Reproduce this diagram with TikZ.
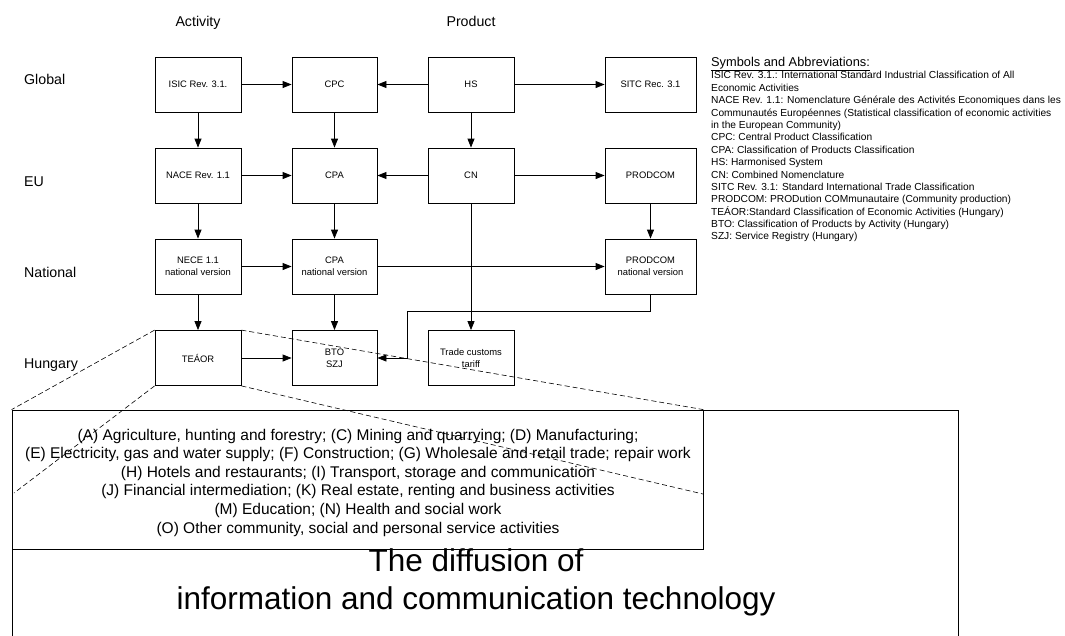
\documentclass[tikz,border=0pt]{standalone}
\usepackage{fontspec}
\setmainfont{Liberation Sans}
\usetikzlibrary{arrows.meta}

\begin{document}
\begin{tikzpicture}[x=1pt,y=-1pt,
  cls/.style={draw, line width=0.8pt, minimum height=55pt, inner sep=0pt,
    align=center, font=\fontsize{9.4}{12}\selectfont},
  link/.style={-{Triangle[length=9pt,width=7pt]}, line width=0.8pt},
  zoomline/.style={line width=0.6pt, dash pattern=on 5pt off 3pt},
  hdr/.style={font=\fontsize{14.2}{17}\selectfont, inner sep=0pt},
]
\useasboundingbox (0,0) rectangle (1065,635);

% column and row headings
\node[hdr, anchor=base] (hact) at (198,26.2) {Activity};
\node[hdr, anchor=base] (hprod) at (471,26.2) {Product};
\node[hdr, anchor=base west] (rglob) at (24,84.2) {Global};
\node[hdr, anchor=base west] (reu) at (24,186.2) {EU};
\node[hdr, anchor=base west] (rnat) at (24,277.2) {National};
\node[hdr, anchor=base west] (rhun) at (24,368.2) {Hungary};

% classification boxes
\node[cls, minimum width=86pt] (isic) at (198,84.5) {ISIC Rev. 3.1.};
\node[cls, minimum width=85pt] (cpc) at (334.5,84.5) {CPC};
\node[cls, minimum width=86pt] (hs) at (471,84.5) {HS};
\node[cls, minimum width=91pt] (sitc) at (650.5,84.5) {SITC Rec. 3.1};

\node[cls, minimum width=86pt] (nace) at (198,175.5) {NACE Rev. 1.1};
\node[cls, minimum width=85pt] (cpa) at (334.5,175.5) {CPA};
\node[cls, minimum width=86pt] (cn) at (471,175.5) {CN};
\node[cls, minimum width=91pt] (prodcom) at (650.5,175.5) {PRODCOM};

\node[cls, minimum width=86pt] (nece) at (198,266.5) {NECE 1.1\\national version};
\node[cls, minimum width=85pt] (cpan) at (334.5,266.5) {CPA\\national version};
\node[cls, minimum width=91pt] (prodn) at (650.5,266.5) {PRODCOM\\national version};

\node[cls, minimum width=86pt] (teaor) at (198,358) {TEÁOR};
\node[cls, minimum width=85pt] (bto) at (334.5,358) {BTO\\SZJ};
\node[cls, minimum width=86pt] (tariff) at (471,358) {Trade customs\\tariff};

% connectors
\draw[link] (isic) -- (cpc);
\draw[link] (hs) -- (cpc);
\draw[link] (hs) -- (sitc);
\draw[link] (isic) -- (nace);
\draw[link] (cpc) -- (cpa);
\draw[link] (hs) -- (cn);
\draw[link] (nace) -- (cpa);
\draw[link] (cn) -- (cpa);
\draw[link] (cn) -- (prodcom);
\draw[link] (nace) -- (nece);
\draw[link] (cpa) -- (cpan);
\draw[link] (prodcom) -- (prodn);
\draw[link] (nece) -- (cpan);
\draw[link] (cpan) -- (prodn);
\draw[link] (cn) -- (tariff);
\draw[link] (nece) -- (teaor);
\draw[link] (cpan) -- (bto);
\draw[link] (teaor) -- (bto);
\coordinate (j1) at (407,311);
\draw[link] (prodn.south) |- (j1) |- (bto.east);

% outer frame
\draw[line width=0.8pt] (12,636) -- (12,410) -- (958,410) -- (958,636);

% TEÁOR sections
\node[draw, fill=white, line width=0.8pt, minimum width=691pt, minimum height=139pt,
  inner sep=0pt] (sectors) at (357.5,479.5) {};
\node[align=center, inner sep=0pt, font=\fontsize{15.5}{18.6}\selectfont]
  (sectortext) at (358,482.5)
  {(A) Agriculture, hunting and forestry; (C) Mining and quarrying; (D) Manufacturing;\\
   (E) Electricity, gas and water supply; (F) Construction; (G) Wholesale and retail trade; repair work\\
   (H) Hotels and restaurants; (I) Transport, storage and communication\\
   (J) Financial intermediation; (K) Real estate, renting and business activities\\
   (M) Education; (N) Health and social work\\
   (O) Other community, social and personal service activities};

% zoom lines from TEÁOR
\coordinate (zl) at (14,493);
\coordinate (zr) at (703,494);
\draw[zoomline] (teaor.north west) -- (sectors.north west);
\draw[zoomline] (teaor.north east) -- (sectors.north east);
\draw[zoomline] (teaor.south west) -- (zl);
\draw[zoomline] (teaor.south east) -- (zr);

% title
\node[align=center, inner sep=0pt, font=\fontsize{31.5}{38}\selectfont] (title) at (476,582)
  {The diffusion of\\information and communication technology};

% legend
\node[anchor=base west, inner sep=0pt, font=\fontsize{12.8}{15}\selectfont] (legtitle) at (711,66.6)
  {\underline{Symbols and Abbreviations:}};
\node[anchor=north west, inner sep=0pt, align=left, font=\fontsize{10.2}{12.38}\selectfont] (legend) at (711,71.4)
  {ISIC Rev. 3.1.: International Standard Industrial Classification of All\\
   Economic Activities\\
   NACE Rev. 1.1: Nomenclature Générale des Activités Economiques dans les\\
   Communautés Européennes (Statistical classification of economic activities\\
   in the European Community)\\
   CPC: Central Product Classification\\
   CPA: Classification of Products Classification\\
   HS: Harmonised System\\
   CN: Combined Nomenclature\\
   SITC Rev. 3.1: Standard International Trade Classification\\
   PRODCOM: PRODution COMmunautaire (Community production)\\
   TEÁOR:Standard Classification of Economic Activities (Hungary)\\
   BTO: Classification of Products by Activity (Hungary)\\
   SZJ: Service Registry (Hungary)};
\end{tikzpicture}
\end{document}
